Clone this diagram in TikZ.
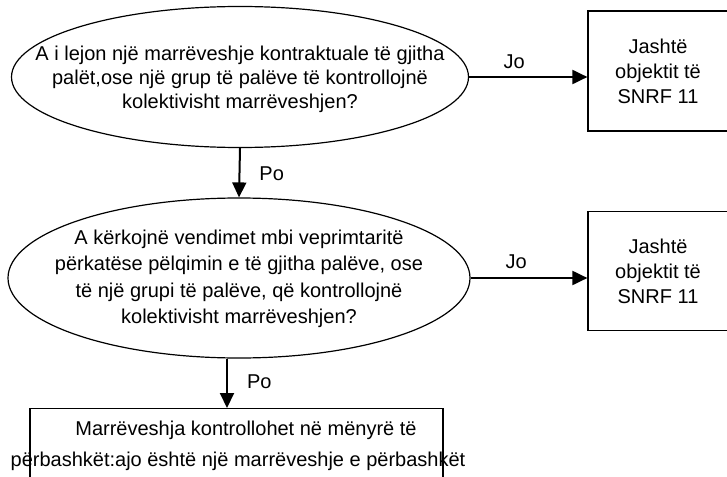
\documentclass[tikz,border=0pt]{standalone}
\usepackage{fontspec}
\setmainfont{Liberation Sans}
\usetikzlibrary{shapes.geometric,arrows.meta}
\begin{document}
\begin{tikzpicture}[x=1pt,y=-1pt,
  every node/.style={font=\fontsize{20}{24}\selectfont, inner sep=0pt},
  question/.style={ellipse, draw, line width=1.2pt},
  qtext/.style={align=center},
  outbox/.style={rectangle, draw, line width=1.2pt, align=center, font=\fontsize{20}{25}\selectfont},
  arr/.style={line width=2pt, -{Triangle[length=15pt,width=14pt]}},
  lbl/.style={font=\fontsize{20}{22}\selectfont}]
\useasboundingbox (0,0) rectangle (727,476);
\node[question, minimum width=457pt, minimum height=141pt] (e1) at (240,77) {};
\node[qtext] (e1t) at (240,79)
  {A i lejon një marrëveshje kontraktuale të gjitha\\palët,ose një grup të palëve të kontrollojnë\\kolektivisht marrëveshjen?};
\node[outbox, minimum width=140pt, minimum height=120pt] (b1) at (658,71)
  {Jashtë\\objektit të\\SNRF 11};
\node[question, minimum width=462pt, minimum height=160pt] (e2) at (239,278) {};
\node[qtext, font=\fontsize{20}{26.5}\selectfont] (e2t) at (239,279)
  {A kërkojnë vendimet mbi veprimtaritë\\përkatëse pëlqimin e të gjitha palëve, ose\\të një grupi të palëve, që kontrollojnë\\kolektivisht marrëveshjen?};
\node[outbox, minimum width=140pt, minimum height=119pt] (b2) at (658,271)
  {Jashtë\\objektit të\\SNRF 11};
\node[outbox, minimum width=413pt, minimum height=100pt, anchor=north] (b3) at (236.5,408) {};
\node[align=center, font=\fontsize{20}{31}\selectfont] (b3t) at (238,446)
  {\hspace*{16pt}Marrëveshja kontrollohet në mënyrë të\\përbashkët:ajo është një marrëveshje e përbashkët};
\coordinate (c3) at (227,408);
\draw[arr] (e1.east) -- node[lbl, pos=0.38, above=7pt] {Jo} (e1.east -| b1.west);
\draw[arr] (e1.south) -- node[lbl, pos=0.52, right=19pt] {Po} (e2.north);
\draw[arr] (e2.east) -- node[lbl, pos=0.39, above=8pt] {Jo} (e2.east -| b2.west);
\draw[arr] (e2.south -| c3) -- node[lbl, pos=0.46, right=19pt] {Po} (c3);
\end{tikzpicture}
\end{document}
